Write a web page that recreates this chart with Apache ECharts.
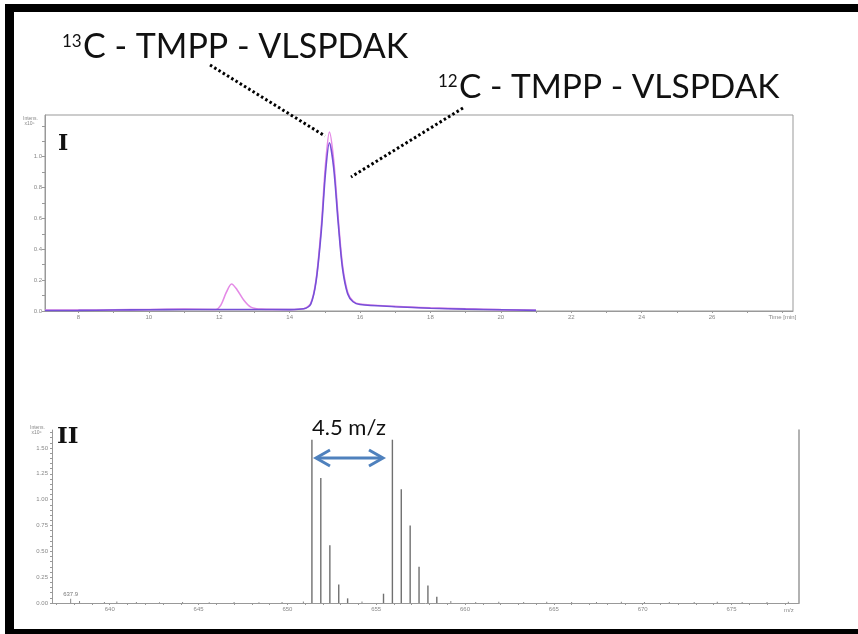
<!DOCTYPE html>
<html>
<head>
<meta charset="utf-8">
<script src="https://cdn.jsdelivr.net/npm/echarts@6/dist/echarts.min.js"></script>
<style>
  html, body { margin: 0; padding: 0; background: #fff; }
  #chart { width: 858px; height: 634px; }
</style>
</head>
<body>
<div id="chart"></div>
<script>
// panel I: extracted ion chromatograms (time in min, intensity x10^5)
var pinkTrace = [
    [7.05, 0.006], [8, 0.006], [9, 0.008], [10, 0.01], [11, 0.012], [11.9, 0.01],
    [12.05, 0.04], [12.2, 0.12], [12.35, 0.175], [12.5, 0.14], [12.7, 0.07],
    [12.9, 0.025], [13.2, 0.012], [14, 0.01], [14.4, 0.015], [14.6, 0.05],
    [14.75, 0.2], [14.9, 0.55], [15.02, 0.95], [15.13, 1.16], [15.25, 0.98],
    [15.38, 0.6], [15.5, 0.3], [15.65, 0.12], [15.8, 0.065], [16, 0.045],
    [17, 0.03], [18, 0.02], [19, 0.014], [20, 0.009], [21, 0.005]
];
var blueTrace = [
    [7.05, 0.003], [8, 0.004], [9, 0.006], [10, 0.008], [11, 0.01], [12, 0.01],
    [13, 0.01], [14, 0.009], [14.4, 0.014], [14.6, 0.045], [14.75, 0.19],
    [14.9, 0.52], [15.02, 0.9], [15.13, 1.09], [15.25, 0.93], [15.38, 0.57],
    [15.5, 0.28], [15.65, 0.11], [15.8, 0.06], [16, 0.042], [17, 0.028],
    [18, 0.018], [19, 0.012], [20, 0.008], [21, 0.004]
];
var timeTicks = [8, 10, 12, 14, 16, 18, 20, 22, 24, 26, 28];
var eicTicks = [0, 0.2, 0.4, 0.6, 0.8, 1.0];

// panel II: mass spectrum (m/z, intensity)
var isotopePeaks = [
    [651.37, 1.58], [651.87, 1.21], [652.38, 0.56], [652.88, 0.18], [653.38, 0.045],
    [655.4, 0.09], [655.9, 1.58], [656.4, 1.1], [656.9, 0.75], [657.4, 0.35],
    [657.9, 0.17], [658.4, 0.06]
];
var noisePeaks = [
    [638.3, 0.02], [639.7, 0.01], [640.4, 0.015], [641.5, 0.01], [642.8, 0.008],
    [644.1, 0.01], [645.6, 0.008], [647.0, 0.01], [648.4, 0.008], [649.7, 0.01],
    [650.9, 0.015], [654.2, 0.015], [659.2, 0.02], [660.6, 0.01], [661.9, 0.012],
    [663.3, 0.01], [664.6, 0.012], [666.0, 0.01], [667.4, 0.01], [668.8, 0.012],
    [670.1, 0.01], [671.5, 0.01], [672.9, 0.01], [674.2, 0.012], [675.6, 0.01],
    [677.0, 0.01], [678.2, 0.012]
];
var labelledPeak = [637.8, 0.04];
var mzTicks = [640, 645, 650, 655, 660, 665, 670, 675];
var msTicks = [0, 0.25, 0.5, 0.75, 1.0, 1.25, 1.5];

var chart = echarts.init(document.getElementById('chart'), null, { renderer: 'canvas' });

function range(a, b, step) {
    var out = [];
    for (var v = a; v <= b + 1e-9; v += step) out.push(Math.round(v * 1000) / 1000);
    return out;
}

var tinyLabel = { fontSize: 6, color: '#888', fontFamily: 'Liberation Sans' };
var axisGray = { lineStyle: { color: '#999', width: 1 } };

var option = {
    animation: false,
    backgroundColor: '#fff',
    grid: [
        { left: 45, right: 65, top: 115, height: 196, show: true, borderColor: '#999', borderWidth: 1 },
        { left: 52, right: 59, top: 430, height: 173 }
    ],
    xAxis: [
        {
            gridIndex: 0, type: 'value', min: 7.05, max: 28.3,
            axisLine: axisGray,
            axisTick: { customValues: range(8, 28, 1), length: 2, lineStyle: { color: '#999' } },
            axisLabel: Object.assign({
                customValues: timeTicks, margin: 3,
                formatter: function (v) { return v === 28 ? 'Time [min]' : String(v); }
            }, tinyLabel),
            splitLine: { show: false }
        },
        {
            gridIndex: 1, type: 'value', min: 636.75, max: 678.8,
            axisLine: axisGray,
            axisTick: { customValues: range(637, 678, 1), length: 2, lineStyle: { color: '#999' } },
            axisLabel: Object.assign({ customValues: mzTicks, margin: 3 }, tinyLabel),
            splitLine: { show: false }
        }
    ],
    yAxis: [
        {
            gridIndex: 0, type: 'value', min: 0, max: 1.27,
            axisLine: { show: true, lineStyle: { color: '#999' } },
            axisTick: { customValues: range(0, 1.2, 0.1), length: 3, lineStyle: { color: '#999' } },
            axisLabel: Object.assign({
                customValues: eicTicks, margin: 3,
                formatter: function (v) { return v.toFixed(1); }
            }, tinyLabel),
            splitLine: { show: false }
        },
        {
            gridIndex: 1, type: 'value', min: 0, max: 1.674,
            axisLine: { show: true, lineStyle: { color: '#999' } },
            axisTick: { customValues: range(0, 1.65, 0.05), length: 2, lineStyle: { color: '#999' } },
            axisLabel: Object.assign({
                customValues: msTicks, margin: 4,
                formatter: function (v) { return v.toFixed(2); }
            }, tinyLabel),
            splitLine: { show: false }
        },
        {
            gridIndex: 1, type: 'value', position: 'right', min: 0, max: 1.674,
            axisLine: { show: true, lineStyle: { color: '#999', width: 1.5 } },
            axisTick: { show: false }, axisLabel: { show: false }, splitLine: { show: false }
        }
    ],
    series: [
        {
            name: 'pink', type: 'line', xAxisIndex: 0, yAxisIndex: 0, data: pinkTrace,
            smooth: 0.3, showSymbol: false,
            lineStyle: { color: '#e48ae6', width: 1.6 }, z: 2
        },
        {
            name: 'blue', type: 'line', xAxisIndex: 0, yAxisIndex: 0, data: blueTrace,
            smooth: 0.3, showSymbol: false,
            lineStyle: { color: '#7650d8', width: 1.6 }, z: 3
        },
        {
            name: 'isotopes', type: 'bar', xAxisIndex: 1, yAxisIndex: 1, data: isotopePeaks,
            barWidth: 1.4, itemStyle: { color: '#707070' }, barGap: '-100%'
        },
        {
            name: 'noise', type: 'bar', xAxisIndex: 1, yAxisIndex: 1,
            data: noisePeaks.concat([{
                value: labelledPeak,
                label: { show: true, position: 'top', formatter: '637.9', fontSize: 6, color: '#777', distance: 2 }
            }]),
            barWidth: 1, itemStyle: { color: '#888' }, barGap: '-100%'
        }
    ],
    graphic: [
        // frame
        { type: 'rect', shape: { x: 5, y: 4, width: 853, height: 8 }, style: { fill: '#000' } },
        { type: 'rect', shape: { x: 5, y: 4, width: 9, height: 630 }, style: { fill: '#000' } },
        { type: 'rect', shape: { x: 5, y: 629, width: 853, height: 5 }, style: { fill: '#000' } },
        // titles
        { type: 'text', x: 62, y: 33, style: { text: '13', fontSize: 17, fill: '#111', fontFamily: 'Lato' } },
        { type: 'text', x: 83, y: 30, style: { text: 'C - TMPP - VLSPDAK', fontSize: 34, fill: '#111', fontFamily: 'Lato' } },
        { type: 'text', x: 438, y: 73, style: { text: '12', fontSize: 17, fill: '#111', fontFamily: 'Lato' } },
        { type: 'text', x: 459, y: 70, style: { text: 'C - TMPP - VLSPDAK', fontSize: 33.5, fill: '#111', fontFamily: 'Lato' } },
        // dotted pointers
        { type: 'line', shape: { x1: 210, y1: 65, x2: 325, y2: 136 }, style: { stroke: '#000', lineWidth: 3, lineDash: [2.5, 2.5] } },
        { type: 'line', shape: { x1: 463, y1: 108, x2: 351, y2: 177 }, style: { stroke: '#000', lineWidth: 3, lineDash: [2.5, 2.5] } },
        // panel labels
        { type: 'text', x: 58, y: 133, style: { text: 'I', fontSize: 22, fontWeight: 'bold', fill: '#111', fontFamily: 'DejaVu Serif' } },
        { type: 'text', x: 57, y: 426, style: { text: 'II', fontSize: 23, fontWeight: 'bold', fill: '#111', fontFamily: 'DejaVu Serif' } },
        { type: 'text', x: 23, y: 116, style: { text: 'Intens.\n x10\u2075', fontSize: 5, lineHeight: 5, fill: '#888', fontFamily: 'Liberation Sans' } },
        { type: 'text', x: 30, y: 425, style: { text: 'Intens.\n x10\u2076', fontSize: 5, lineHeight: 5, fill: '#888', fontFamily: 'Liberation Sans' } },
        { type: 'text', x: 784, y: 607, style: { text: 'm/z', fontSize: 6, fill: '#888', fontFamily: 'Liberation Sans' } },
        // mass shift annotation
        { type: 'text', x: 312, y: 417, style: { text: '4.5 m/z', fontSize: 22, fill: '#111', fontFamily: 'Lato' } },
        { type: 'line', shape: { x1: 317, y1: 458, x2: 382, y2: 458 }, style: { stroke: '#4f81bd', lineWidth: 3 } },
        { type: 'polyline', shape: { points: [[330, 450], [316, 458], [330, 466]] }, style: { stroke: '#4f81bd', lineWidth: 3, fill: null } },
        { type: 'polyline', shape: { points: [[369, 450], [383, 458], [369, 466]] }, style: { stroke: '#4f81bd', lineWidth: 3, fill: null } }
    ]
};

chart.setOption(option);
</script>
</body>
</html>
